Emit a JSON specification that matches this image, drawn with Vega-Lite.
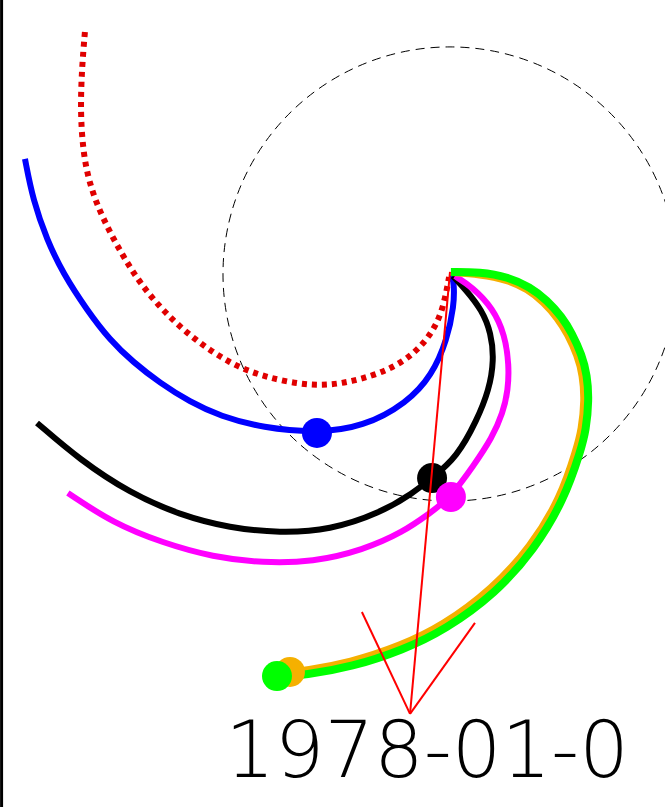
{
  "$schema": "https://vega.github.io/schema/vega-lite/v6.json",
  "width": 665,
  "height": 807,
  "autosize": "none",
  "padding": 0,
  "background": "white",
  "view": {"stroke": null},
  "datasets": {
    "lines": [
      {"s": "red", "i": 0, "x": -1.608, "y": 1.066},
      {"s": "red", "i": 1, "x": -1.621, "y": 0.912},
      {"s": "red", "i": 2, "x": -1.628, "y": 0.722},
      {"s": "red", "i": 3, "x": -1.617, "y": 0.546},
      {"s": "red", "i": 4, "x": -1.59, "y": 0.401},
      {"s": "red", "i": 5, "x": -1.533, "y": 0.251},
      {"s": "red", "i": 6, "x": -1.449, "y": 0.093},
      {"s": "red", "i": 7, "x": -1.366, "y": -0.04},
      {"s": "red", "i": 8, "x": -1.256, "y": -0.172},
      {"s": "red", "i": 9, "x": -1.123, "y": -0.291},
      {"s": "red", "i": 10, "x": -0.974, "y": -0.392},
      {"s": "red", "i": 11, "x": -0.824, "y": -0.454},
      {"s": "red", "i": 12, "x": -0.599, "y": -0.498},
      {"s": "red", "i": 13, "x": -0.432, "y": -0.476},
      {"s": "red", "i": 14, "x": -0.264, "y": -0.423},
      {"s": "red", "i": 15, "x": -0.154, "y": -0.348},
      {"s": "red", "i": 16, "x": -0.079, "y": -0.26},
      {"s": "red", "i": 17, "x": -0.031, "y": -0.159},
      {"s": "red", "i": 18, "x": -0.004, "y": -0.013},

      {"s": "blue", "i": 0, "x": -1.872, "y": 0.507},
      {"s": "blue", "i": 1, "x": -1.837, "y": 0.326},
      {"s": "blue", "i": 2, "x": -1.775, "y": 0.15},
      {"s": "blue", "i": 3, "x": -1.705, "y": 0.004},
      {"s": "blue", "i": 4, "x": -1.599, "y": -0.159},
      {"s": "blue", "i": 5, "x": -1.498, "y": -0.291},
      {"s": "blue", "i": 6, "x": -1.396, "y": -0.388},
      {"s": "blue", "i": 7, "x": -1.278, "y": -0.48},
      {"s": "blue", "i": 8, "x": -1.145, "y": -0.564},
      {"s": "blue", "i": 9, "x": -1.013, "y": -0.626},
      {"s": "blue", "i": 10, "x": -0.824, "y": -0.678},
      {"s": "blue", "i": 11, "x": -0.586, "y": -0.7},
      {"s": "blue", "i": 12, "x": -0.383, "y": -0.674},
      {"s": "blue", "i": 13, "x": -0.189, "y": -0.568},
      {"s": "blue", "i": 14, "x": -0.079, "y": -0.445},
      {"s": "blue", "i": 15, "x": -0.013, "y": -0.291},
      {"s": "blue", "i": 16, "x": 0.018, "y": -0.137},
      {"s": "blue", "i": 17, "x": 0.018, "y": -0.048},
      {"s": "blue", "i": 18, "x": 0.009, "y": -0.004},

      {"s": "black", "i": 0, "x": -1.819, "y": -0.656},
      {"s": "black", "i": 1, "x": -1.63, "y": -0.819},
      {"s": "black", "i": 2, "x": -1.41, "y": -0.965},
      {"s": "black", "i": 3, "x": -1.189, "y": -1.062},
      {"s": "black", "i": 4, "x": -0.969, "y": -1.119},
      {"s": "black", "i": 5, "x": -0.749, "y": -1.141},
      {"s": "black", "i": 6, "x": -0.529, "y": -1.128},
      {"s": "black", "i": 7, "x": -0.308, "y": -1.053},
      {"s": "black", "i": 8, "x": -0.163, "y": -0.965},
      {"s": "black", "i": 9, "x": -0.079, "y": -0.899},
      {"s": "black", "i": 10, "x": 0.031, "y": -0.806},
      {"s": "black", "i": 11, "x": 0.119, "y": -0.643},
      {"s": "black", "i": 12, "x": 0.172, "y": -0.511},
      {"s": "black", "i": 13, "x": 0.194, "y": -0.379},
      {"s": "black", "i": 14, "x": 0.181, "y": -0.26},
      {"s": "black", "i": 15, "x": 0.141, "y": -0.159},
      {"s": "black", "i": 16, "x": 0.07, "y": -0.07},
      {"s": "black", "i": 17, "x": 0.013, "y": -0.009},

      {"s": "magenta", "i": 0, "x": -1.683, "y": -0.965},
      {"s": "magenta", "i": 1, "x": -1.485, "y": -1.097},
      {"s": "magenta", "i": 2, "x": -1.264, "y": -1.185},
      {"s": "magenta", "i": 3, "x": -1.044, "y": -1.247},
      {"s": "magenta", "i": 4, "x": -0.824, "y": -1.273},
      {"s": "magenta", "i": 5, "x": -0.604, "y": -1.269},
      {"s": "magenta", "i": 6, "x": -0.383, "y": -1.216},
      {"s": "magenta", "i": 7, "x": -0.207, "y": -1.137},
      {"s": "magenta", "i": 8, "x": -0.088, "y": -1.053},
      {"s": "magenta", "i": 9, "x": 0.0, "y": -0.987},
      {"s": "magenta", "i": 10, "x": 0.106, "y": -0.841},
      {"s": "magenta", "i": 11, "x": 0.185, "y": -0.722},
      {"s": "magenta", "i": 12, "x": 0.233, "y": -0.612},
      {"s": "magenta", "i": 13, "x": 0.256, "y": -0.511},
      {"s": "magenta", "i": 14, "x": 0.26, "y": -0.401},
      {"s": "magenta", "i": 15, "x": 0.242, "y": -0.269},
      {"s": "magenta", "i": 16, "x": 0.189, "y": -0.15},
      {"s": "magenta", "i": 17, "x": 0.097, "y": -0.057},
      {"s": "magenta", "i": 18, "x": 0.022, "y": -0.009},

      {"s": "orange", "i": 0, "x": 0.004, "y": 0.009},
      {"s": "orange", "i": 1, "x": 0.132, "y": 0.0},
      {"s": "orange", "i": 2, "x": 0.251, "y": -0.022},
      {"s": "orange", "i": 3, "x": 0.344, "y": -0.066},
      {"s": "orange", "i": 4, "x": 0.414, "y": -0.123},
      {"s": "orange", "i": 5, "x": 0.476, "y": -0.194},
      {"s": "orange", "i": 6, "x": 0.52, "y": -0.264},
      {"s": "orange", "i": 7, "x": 0.564, "y": -0.361},
      {"s": "orange", "i": 8, "x": 0.586, "y": -0.445},
      {"s": "orange", "i": 9, "x": 0.595, "y": -0.555},
      {"s": "orange", "i": 10, "x": 0.581, "y": -0.687},
      {"s": "orange", "i": 11, "x": 0.559, "y": -0.771},
      {"s": "orange", "i": 12, "x": 0.489, "y": -0.987},
      {"s": "orange", "i": 13, "x": 0.357, "y": -1.203},
      {"s": "orange", "i": 14, "x": 0.189, "y": -1.388},
      {"s": "orange", "i": 15, "x": -0.031, "y": -1.551},
      {"s": "orange", "i": 16, "x": -0.216, "y": -1.639},
      {"s": "orange", "i": 17, "x": -0.441, "y": -1.714},
      {"s": "orange", "i": 18, "x": -0.643, "y": -1.749},
      {"s": "orange", "i": 19, "x": -0.705, "y": -1.753},

      {"s": "green", "i": 0, "x": 0.004, "y": 0.009},
      {"s": "green", "i": 1, "x": 0.132, "y": 0.009},
      {"s": "green", "i": 2, "x": 0.256, "y": -0.013},
      {"s": "green", "i": 3, "x": 0.352, "y": -0.057},
      {"s": "green", "i": 4, "x": 0.427, "y": -0.115},
      {"s": "green", "i": 5, "x": 0.493, "y": -0.189},
      {"s": "green", "i": 6, "x": 0.537, "y": -0.26},
      {"s": "green", "i": 7, "x": 0.581, "y": -0.357},
      {"s": "green", "i": 8, "x": 0.604, "y": -0.445},
      {"s": "green", "i": 9, "x": 0.612, "y": -0.555},
      {"s": "green", "i": 10, "x": 0.599, "y": -0.687},
      {"s": "green", "i": 11, "x": 0.577, "y": -0.775},
      {"s": "green", "i": 12, "x": 0.502, "y": -0.996},
      {"s": "green", "i": 13, "x": 0.37, "y": -1.216},
      {"s": "green", "i": 14, "x": 0.203, "y": -1.405},
      {"s": "green", "i": 15, "x": -0.022, "y": -1.568},
      {"s": "green", "i": 16, "x": -0.207, "y": -1.656},
      {"s": "green", "i": 17, "x": -0.432, "y": -1.731},
      {"s": "green", "i": 18, "x": -0.639, "y": -1.767},
      {"s": "green", "i": 19, "x": -0.762, "y": -1.775}
    ],
    "markers": [
      {"s": "blue", "x": -0.586, "y": -0.7},
      {"s": "black", "x": -0.079, "y": -0.899},
      {"s": "magenta", "x": 0.004, "y": -0.982},
      {"s": "orange", "x": -0.705, "y": -1.753},
      {"s": "green", "x": -0.762, "y": -1.771}
    ],
    "arrow": [
      {"x": 0.0, "y": 0.009, "x2": -0.176, "y2": -1.938},
      {"x": -0.388, "y": -1.489, "x2": -0.176, "y2": -1.938},
      {"x": 0.11, "y": -1.537, "x2": -0.176, "y2": -1.938}
    ]
  },
  "encoding": {
    "x": {"field": "x", "type": "quantitative", "axis": null, "scale": {"domain": [-1.982, 0.947], "nice": false, "zero": false}},
    "y": {"field": "y", "type": "quantitative", "axis": null, "scale": {"domain": [-2.348, 1.207], "nice": false, "zero": false}}
  },
  "layer": [
    {
      "data": {"values": [{"x": 0, "y": 0}]},
      "mark": {"type": "point", "shape": "circle", "size": 206116, "filled": false, "stroke": "black", "strokeWidth": 1, "strokeDash": [9, 6], "opacity": 1}
    },
    {
      "data": {"values": [{"x": -1.975}]},
      "mark": {"type": "rule", "stroke": "black", "strokeWidth": 3},
      "encoding": {"y": {"value": 0}, "y2": {"value": 807}}
    },
    {
      "data": {"name": "lines"},
      "transform": [{"filter": "datum.s === 'red'"}],
      "mark": {"type": "line", "stroke": "#e00000", "strokeWidth": 6, "strokeDash": [5, 5], "interpolate": "basis"},
      "encoding": {"order": {"field": "i", "type": "quantitative"}}
    },
    {
      "data": {"name": "lines"},
      "transform": [{"filter": "datum.s === 'blue'"}],
      "mark": {"type": "line", "stroke": "#0000ff", "strokeWidth": 6, "interpolate": "basis"},
      "encoding": {"order": {"field": "i", "type": "quantitative"}}
    },
    {
      "data": {"name": "lines"},
      "transform": [{"filter": "datum.s === 'black'"}],
      "mark": {"type": "line", "stroke": "#000000", "strokeWidth": 6, "interpolate": "basis"},
      "encoding": {"order": {"field": "i", "type": "quantitative"}}
    },
    {
      "data": {"name": "lines"},
      "transform": [{"filter": "datum.s === 'magenta'"}],
      "mark": {"type": "line", "stroke": "#ff00ff", "strokeWidth": 6, "interpolate": "basis"},
      "encoding": {"order": {"field": "i", "type": "quantitative"}}
    },
    {
      "data": {"name": "lines"},
      "transform": [{"filter": "datum.s === 'orange'"}],
      "mark": {"type": "line", "stroke": "#f5b000", "strokeWidth": 8, "interpolate": "basis"},
      "encoding": {"order": {"field": "i", "type": "quantitative"}}
    },
    {
      "data": {"name": "lines"},
      "transform": [{"filter": "datum.s === 'green'"}],
      "mark": {"type": "line", "stroke": "#00ff00", "strokeWidth": 8, "interpolate": "basis"},
      "encoding": {"order": {"field": "i", "type": "quantitative"}}
    },
    {
      "data": {"name": "markers"},
      "mark": {"type": "point", "shape": "circle", "filled": true, "size": 900, "opacity": 1},
      "encoding": {
        "color": {"field": "s", "type": "nominal", "legend": null, "scale": {"domain": ["blue", "black", "magenta", "orange", "green"], "range": ["#0000ff", "#000000", "#ff00ff", "#f5b000", "#00ff00"]}}
      }
    },
    {
      "data": {"name": "arrow"},
      "mark": {"type": "rule", "stroke": "#ff0000", "strokeWidth": 2},
      "encoding": {
        "x2": {"field": "x2"},
        "y2": {"field": "y2"}
      }
    },
    {
      "data": {"values": [{"x": -0.101, "y": -2.216, "t": "1978-01-0"}]},
      "mark": {"type": "text", "align": "center", "baseline": "alphabetic", "font": "DejaVu Sans", "fontSize": 78, "fontWeight": 200, "color": "black"},
      "encoding": {"text": {"field": "t"}}
    }
  ]
}
